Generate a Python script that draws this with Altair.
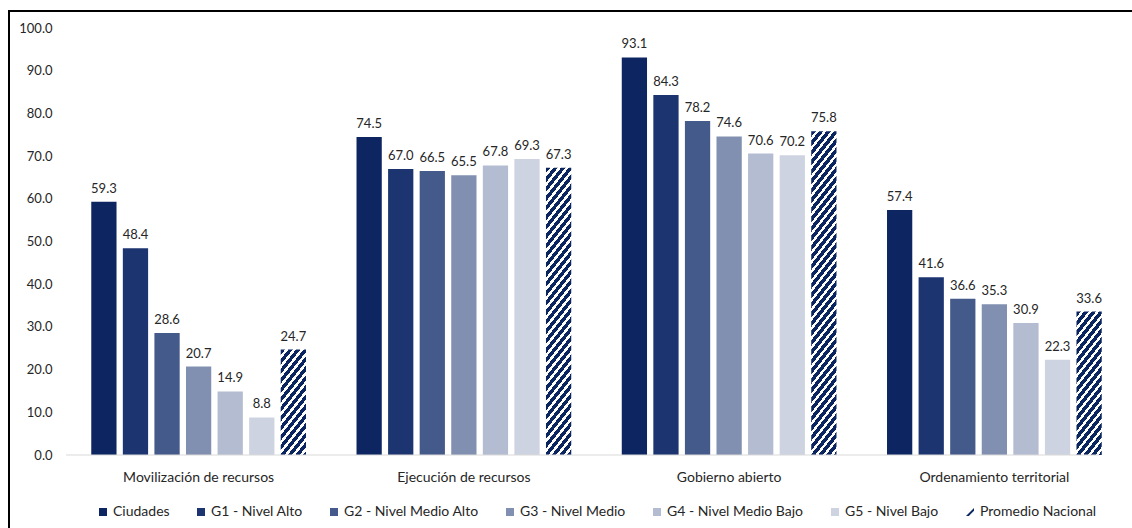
import altair as alt
import pandas as pd

categories = ["Movilización de recursos", "Ejecución de recursos", "Gobierno abierto", "Ordenamiento territorial"]
series = ["Ciudades", "G1 - Nivel Alto", "G2 - Nivel Medio Alto", "G3 - Nivel Medio",
          "G4 - Nivel Medio Bajo", "G5 - Nivel Bajo", "Promedio Nacional"]
values = {
    "Movilización de recursos": [59.3, 48.4, 28.6, 20.7, 14.9, 8.8, 24.7],
    "Ejecución de recursos": [74.5, 67.0, 66.5, 65.5, 67.8, 69.3, 67.3],
    "Gobierno abierto": [93.1, 84.3, 78.2, 74.6, 70.6, 70.2, 75.8],
    "Ordenamiento territorial": [57.4, 41.6, 36.6, 35.3, 30.9, 22.3, 33.6],
}
colors = ["#0D2662", "#1C3570", "#445A8A", "#8190B0", "#B3BCD0", "#CDD3E0", "#0B2561"]
shapes = ["square"] * 6 + ["M-1,1L1,-1L1,-0.3L-0.3,1Z"]
y_ticks = [0, 10, 20, 30, 40, 50, 60, 70, 80, 90, 100]

rows = []
for c in categories:
    for s, v in zip(series, values[c]):
        rows.append({"category": c, "series": s, "value": v})
df = pd.DataFrame(rows)

W, H = 1061, 427
FONT = "Lato"
TXT = "#262626"
HATCH = "#0B2561"

x_enc = alt.X("category:N", sort=categories, title=None,
              scale=alt.Scale(paddingInner=0, paddingOuter=0),
              axis=alt.Axis(labelAngle=0, ticks=False, domain=False, labelPadding=15,
                            labelFont=FONT, labelFontSize=14, labelColor=TXT))
xo_enc = alt.XOffset("series:N", sort=series,
                     scale=alt.Scale(domain=series, paddingInner=0.2, paddingOuter=0.8))
y_enc = alt.Y("value:Q", title=None,
              scale=alt.Scale(domain=[0, 100], nice=False),
              axis=alt.Axis(values=y_ticks, format=".1f", grid=False, domain=False, ticks=False,
                            labelPadding=14, labelFont=FONT, labelFontSize=13, labelColor=TXT))

legend = alt.Legend(title=None, orient="none", legendX=30, legendY=477,
                    direction="horizontal", columns=7,
                    symbolSize=64, symbolStrokeWidth=0, symbolOpacity=1,
                    labelOffset=3, columnPadding=24,
                    labelFont=FONT, labelFontSize=14, labelColor=TXT)
color_enc = alt.Color("series:N", sort=series, scale=alt.Scale(domain=series, range=colors),
                      legend=legend)
shape_enc = alt.Shape("series:N", sort=series, scale=alt.Scale(domain=series, range=shapes),
                      legend=legend)

base = alt.Chart(df)

bars = base.transform_filter(alt.datum.series != "Promedio Nacional").mark_bar().encode(
    x=x_enc, xOffset=xo_enc, y=y_enc, color=color_enc)

# empty point layer that only gives the legend its symbol shapes
legend_pts = base.transform_filter(alt.datum.value < 0).mark_point(filled=True, opacity=1).encode(
    x=x_enc, xOffset=xo_enc, y=y_enc, color=color_enc, shape=shape_enc)

# hatched bars for the national average: striped linear gradient per bar
x_step = W / 4
off_step = x_step / (7 - 0.2 + 2 * 0.8)
bw = off_step * 0.8
slope = 1.25
period = 9.5
hatch_layers = []
for c in categories:
    v = values[c][series.index("Promedio Nacional")]
    h = v * H / 100.0
    span = slope * bw + h
    k = span / ((slope * bw) ** 2 + h ** 2)
    n = span / period
    stops = []
    i = 0
    while i / n < 1:
        a = i / n
        b = min((i + 0.58) / n, 1)
        e = min((i + 1) / n, 1)
        stops += [alt.GradientStop(offset=a, color=HATCH), alt.GradientStop(offset=b, color=HATCH),
                  alt.GradientStop(offset=b, color="#ffffff"), alt.GradientStop(offset=e, color="#ffffff")]
        i += 1
    grad = alt.LinearGradient(gradient="linear", stops=stops,
                              x1=0, y1=0, x2=k * slope * bw, y2=k * h)
    layer = base.transform_filter(
        (alt.datum.series == "Promedio Nacional") & (alt.datum.category == c)
    ).mark_bar(fill=grad).encode(x=x_enc, xOffset=xo_enc, y=y_enc)
    hatch_layers.append(layer)

labels = base.mark_text(baseline="bottom", dy=-6, font=FONT, fontSize=13, color=TXT).encode(
    x=x_enc, xOffset=xo_enc, y=y_enc, text=alt.Text("value:Q", format=".1f"))

one = alt.Chart(pd.DataFrame({"a": [0]}))
baseline = one.mark_rule(color="#D9D9D9", strokeWidth=1).encode(
    x=alt.value(0), x2=alt.value(1033), y=alt.value(H))
border_left = one.mark_rule(color="#000000", strokeWidth=2).encode(
    x=alt.value(-57), y=alt.value(-18), y2=alt.value(520))
border_top = one.mark_rule(color="#000000", strokeWidth=2).encode(
    x=alt.value(-58), x2=alt.value(1080), y=alt.value(-17))

chart = alt.layer(bars, legend_pts, *hatch_layers, baseline, labels, border_left, border_top).properties(
    width=W, height=H,
    autosize=alt.AutoSizeParams(type="none"),
    padding={"left": 66, "top": 28, "right": 5, "bottom": 73},
).configure_view(stroke=None)

chart.save("out.html", embed_options={"renderer": "svg", "actions": False})
